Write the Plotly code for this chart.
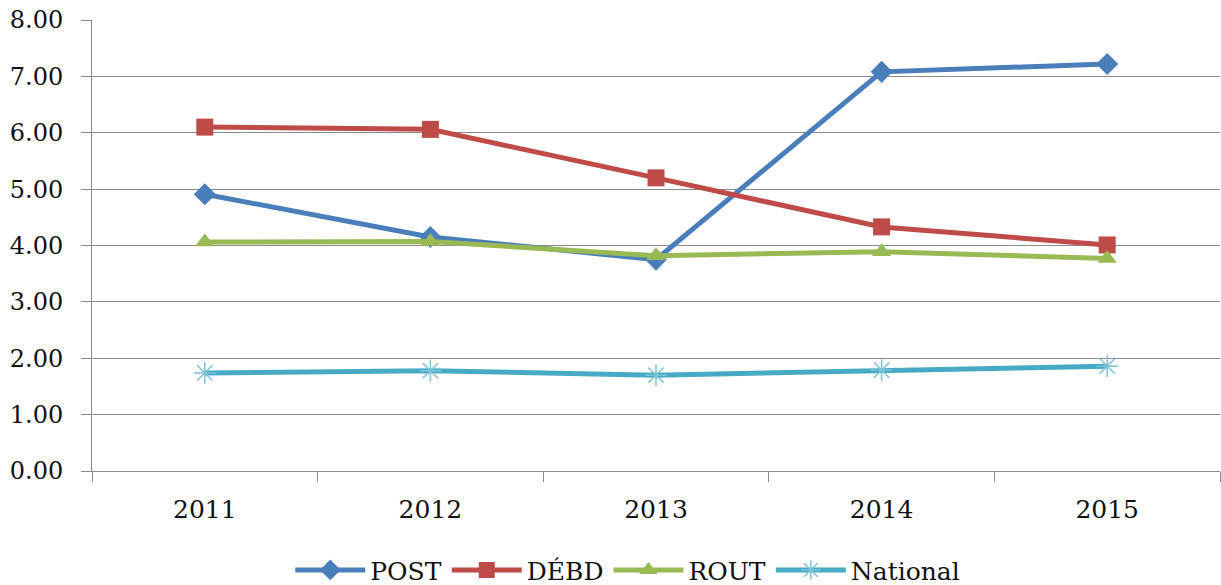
import plotly.graph_objects as go

years = ["2011", "2012", "2013", "2014", "2015"]
post = [4.91, 4.15, 3.75, 7.08, 7.22]
debd = [6.10, 6.06, 5.20, 4.33, 4.01]
rout = [4.06, 4.07, 3.82, 3.89, 3.77]
national = [1.74, 1.78, 1.70, 1.79, 1.86]

y_ticks = [0, 1, 2, 3, 4, 5, 6, 7, 8]
y_labels = ["0.00", "1.00", "2.00", "3.00", "4.00", "5.00", "6.00", "7.00", "8.00"]

FONT = "DejaVu Serif"
GRID = "#8c8c8c"

fig = go.Figure()
fig.add_trace(go.Scatter(x=years, y=post, name="POST", mode="lines+markers",
                         line=dict(color="#4a7ebb", width=5),
                         marker=dict(symbol="diamond", size=17, color="#4a7ebb")))
fig.add_trace(go.Scatter(x=years, y=debd, name="DÉBD", mode="lines+markers",
                         line=dict(color="#be4b48", width=5),
                         marker=dict(symbol="square", size=17, color="#be4b48")))
fig.add_trace(go.Scatter(x=years, y=rout, name="ROUT", mode="lines+markers",
                         line=dict(color="#98b954", width=5),
                         marker=dict(symbol="triangle-up", size=17, color="#98b954")))
fig.add_trace(go.Scatter(x=years, y=national, name="National", mode="lines+markers",
                         line=dict(color="#46aac5", width=5),
                         marker=dict(symbol="asterisk-open", size=18,
                                     line=dict(color="#7cc3d8", width=1.5), color="#7cc3d8")))

fig.update_layout(
    width=1221, height=585,
    margin=dict(l=92, r=1, t=20, b=114, autoexpand=False),
    paper_bgcolor="white", plot_bgcolor="white",
    font=dict(family=FONT, size=25, color="#111111"),
    showlegend=True,
    legend=dict(orientation="h", x=0.475, xanchor="center", y=-0.22, yanchor="middle",
                font=dict(family=FONT, size=25, color="#111111"),
                itemwidth=70, tracegroupgap=0, traceorder="normal"),
)
fig.update_xaxes(type="category", range=[-0.5, 4.5], showgrid=False, automargin=False,
                 showline=True, linecolor=GRID, linewidth=1,
                 ticks="outside", ticklen=10, tickcolor=GRID, tickson="boundaries",
                 ticklabelstandoff=16, tickfont=dict(family=FONT, size=25))
fig.update_yaxes(range=[0, 8], tickvals=y_ticks, ticktext=y_labels, automargin=False,
                 showgrid=True, gridcolor=GRID, gridwidth=1,
                 showline=True, linecolor=GRID, linewidth=1,
                 ticks="outside", ticklen=10, tickcolor=GRID,
                 ticklabelstandoff=13, zeroline=False,
                 tickfont=dict(family=FONT, size=24))

fig.write_html("out.html", config={"displayModeBar": False},
               post_script="document.body.style.margin='0';document.body.style.padding='0';")
